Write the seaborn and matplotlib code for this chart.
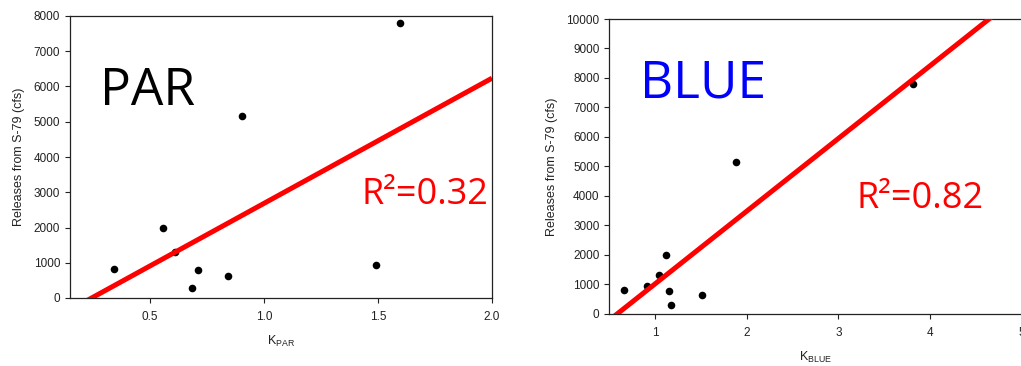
import matplotlib
matplotlib.use("Agg")
import matplotlib.pyplot as plt
import seaborn as sns
import numpy as np

# Data
releases = [820, 1990, 1300, 292, 783, 632, 5150, 925, 7800]
k_par = [0.343, 0.557, 0.612, 0.687, 0.713, 0.841, 0.905, 1.49, 1.598]
k_blue = [0.662, 1.123, 1.047, 1.178, 1.152, 1.515, 1.886, 0.909, 3.817]

par_xticks = [0.5, 1.0, 1.5, 2.0]
par_yticks = list(range(0, 8001, 1000))
blue_xticks = [1, 2, 3, 4, 5]
blue_yticks = list(range(0, 10001, 1000))

sns.set_style("ticks")
plt.rcParams["font.family"] = ["Liberation Sans", "DejaVu Sans"]
plt.rcParams["mathtext.fontset"] = "custom"
plt.rcParams["mathtext.rm"] = "Liberation Sans"
plt.rcParams["mathtext.it"] = "Liberation Sans"

BIG = ["Open Sans", "DejaVu Sans"]

fig = plt.figure(figsize=(10.21, 3.66), dpi=100)
ax1 = fig.add_axes([70 / 1021, 1 - 298 / 366, (492 - 70) / 1021, (298 - 16) / 366])
ax2 = fig.add_axes([609.3 / 1021, 1 - 313.7 / 366, (1021.5 - 609.3) / 1021, (313.7 - 19) / 366])

def panel(ax, x, xlim, ylim, xticks, yticks, xfmt, xlabel, title, tcolor, r2, r2pos, titlepos):
    ax.set_xlim(*xlim)
    sns.regplot(x=x, y=releases, ax=ax, ci=None, truncate=False,
                scatter_kws=dict(s=30, color="black", alpha=1, linewidths=0, zorder=2),
                line_kws=dict(color="#ff0000", lw=3.6, zorder=3, solid_capstyle="butt"))
    ax.set_ylim(*ylim)
    ax.set_xticks(xticks)
    ax.set_xticklabels([xfmt.format(v) for v in xticks])
    ax.set_yticks(yticks)
    ax.tick_params(axis="both", labelsize=8.5, length=3.5, width=0.8, colors="#222222", direction="out")
    ax.tick_params(axis="x", pad=6)
    for s in ax.spines.values():
        s.set_visible(True)
        s.set_linewidth(0.9)
        s.set_color("#222222")
    ax.set_xlabel(xlabel, fontsize=9, color="#222222", labelpad=8)
    ax.set_ylabel("Releases from S-79 (cfs)", fontsize=9, color="#222222", labelpad=6)
    ax.text(titlepos[0], titlepos[1], title, transform=ax.transAxes, fontsize=37,
            color=tcolor, family=BIG, va="baseline", ha="left")
    ax.text(r2pos[0], r2pos[1], r2, transform=ax.transAxes, fontsize=26,
            color="#ff0000", family=BIG, va="baseline", ha="left")

panel(ax1, k_par, (0.15, 2.0), (0, 8000), par_xticks, par_yticks, "{:.1f}",
      r"K$_{\mathrm{PAR}}$", "PAR", "black", "R²=0.32",
      (0.69, 0.335), (0.07, 0.685))
panel(ax2, k_blue, (0.5, 5.0), (0, 10000), blue_xticks, blue_yticks, "{:d}",
      r"K$_{\mathrm{BLUE}}$", "BLUE", "#0000ff", "R²=0.82",
      (0.60, 0.36), (0.075, 0.735))

fig.savefig("out.png", dpi=100)
